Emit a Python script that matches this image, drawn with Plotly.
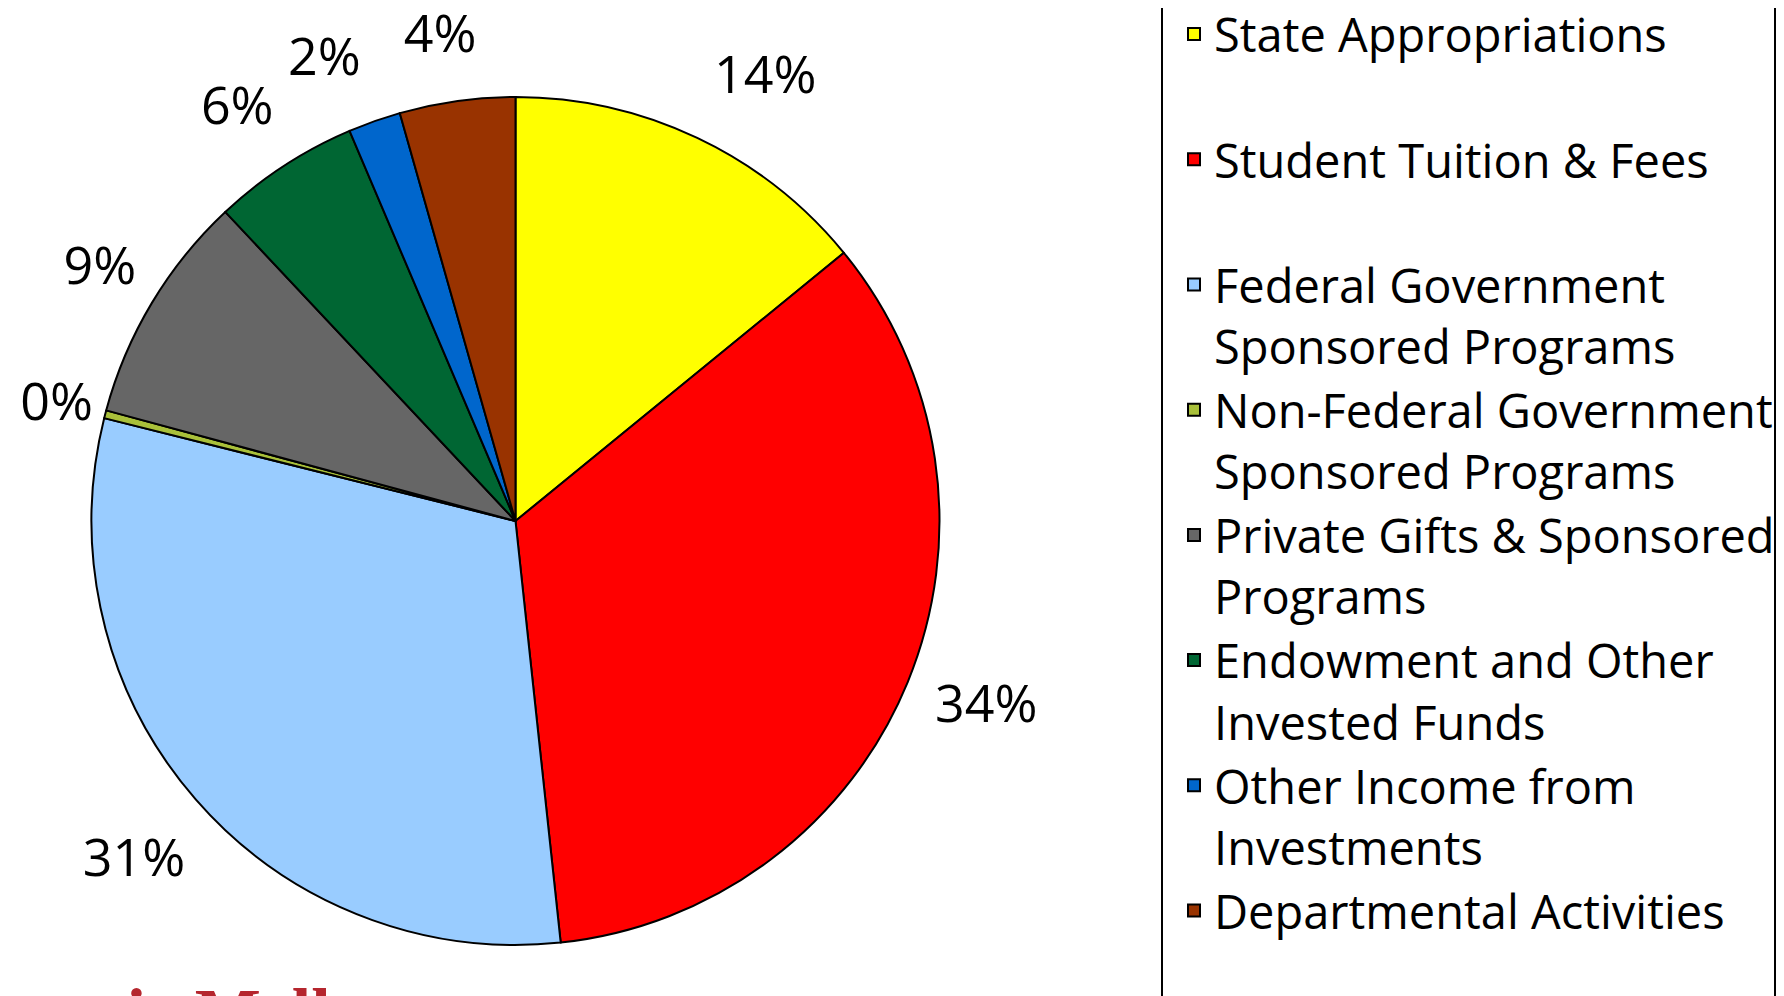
import plotly.graph_objects as go

categories = [
    "State Appropriations<br>&nbsp;",
    "Student Tuition & Fees<br>&nbsp;",
    "Federal Government<br>Sponsored Programs",
    "Non-Federal Government<br>Sponsored Programs",
    "Private Gifts & Sponsored<br>Programs",
    "Endowment and Other<br>Invested Funds",
    "Other Income from<br>Investments",
    "Departmental Activities",
]
values = [14.1, 34.2, 30.6, 0.3, 8.8, 5.6, 2.0, 4.4]
colors = ["#FFFF00", "#FF0000", "#99CCFF", "#A9C03A", "#666666", "#006633", "#0066CC", "#993300"]

W, H = 1784, 996
OFF = 8  # page offset of the plot div

cx, cy, r = 515.5 - OFF, 521 - OFF, 424
# each percent label is drawn by its own transparent label ring: (shift x, shift y, radius) in px
ring_geom = [(-10, -17, 445), (-10, 6, 445), (23, 27, 445), (26, -7, 445),
             (20, -19, 445), (19, -20, 445), (11, -15, 445), (40, -14, 445)]

fig = go.Figure()
fig.add_trace(go.Pie(
    labels=categories,
    values=values,
    sort=False,
    direction="clockwise",
    rotation=0,
    marker=dict(colors=colors, line=dict(color="black", width=2)),
    textinfo="none",
    domain=dict(x=[(cx - r) / W, (cx + r) / W], y=[1 - (cy + r) / H, 1 - (cy - r) / H]),
    hoverinfo="label+percent",
))

for k, (gx, gy, rt) in enumerate(ring_geom):
    lx, ly = cx + gx, cy + gy
    fig.add_trace(go.Pie(
        labels=categories,
        values=values,
        sort=False,
        direction="clockwise",
        rotation=0,
        marker=dict(colors=["rgba(0,0,0,0)"] * len(values), line=dict(width=0)),
        texttemplate="%{percent:.0%}",
        textposition=["outside" if i == k else "none" for i in range(len(values))],
        outsidetextfont=dict(family="Open Sans", size=52, color="black"),
        domain=dict(x=[(lx - rt) / W, (lx + rt) / W], y=[1 - (ly + rt) / H, 1 - (ly - rt) / H]),
        showlegend=False,
        hoverinfo="skip",
    ))

fig.update_layout(
    width=W, height=H,
    margin=dict(l=0, r=0, t=0, b=0, autoexpand=False),
    paper_bgcolor="white",
    plot_bgcolor="white",
    showlegend=True,
    legend=dict(
        x=1166 / W, xanchor="left",
        y=1.011, yanchor="top",
        font=dict(family="Open Sans", size=47, color="black"),
        valign="top",
        bgcolor="rgba(0,0,0,0)",
        borderwidth=0,
    ),
    shapes=[dict(
        type="rect", xref="paper", yref="paper",
        x0=(1162 - OFF) / W, x1=(1775 - OFF) / W, y0=-0.05, y1=1.05,
        line=dict(color="black", width=2),
        fillcolor="rgba(0,0,0,0)",
    )],
    annotations=[dict(
        text="<b>Carnegie Mellon</b>",
        xref="paper", yref="paper",
        x=-105 / W, xanchor="left",
        y=1 - 965 / H, yanchor="top",
        showarrow=False,
        font=dict(family="Liberation Serif", size=70, color="#B5262E"),
    )],
)
try:
    fig.update_layout(legend_maxheight=1.0)
except Exception:
    fig.update_layout(legend_y=1.0)

fig.write_html("out.html")
